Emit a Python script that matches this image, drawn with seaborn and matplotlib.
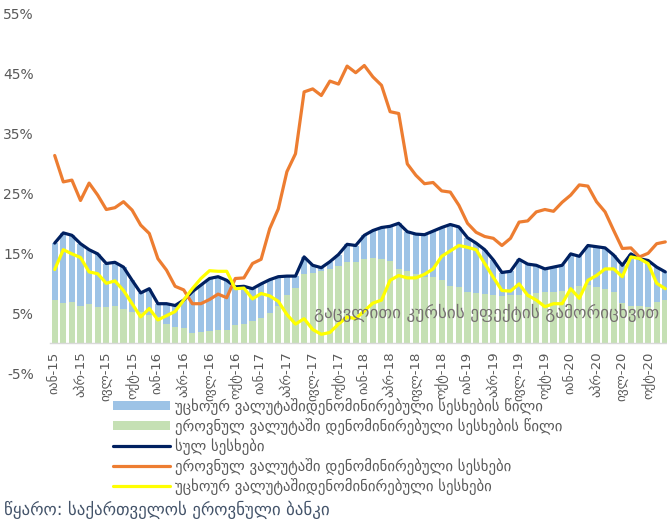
import numpy as np
import pandas as pd
import matplotlib
matplotlib.use("Agg")
import matplotlib.pyplot as plt
from matplotlib.patches import Patch
from matplotlib.lines import Line2D
import seaborn as sns

# ---------------- data (percent, monthly Jan-2015 .. Dec-2020) ----------------
years = ["15", "16", "17", "18", "19", "20"]
quarter_months = ["იან", "აპრ", "ივლ", "ოქტ"]

green_share = [7.2, 6.8, 6.9, 6.2, 6.6, 6.1, 6.1, 6.2, 5.8, 5.2, 5.2, 4.7,
               4.4, 3.3, 2.7, 2.6, 1.8, 1.9, 2.0, 2.2, 2.3, 3.1, 3.3, 3.7,
               4.2, 5.0, 6.2, 8.0, 9.2, 11.5, 11.8, 12.0, 12.4, 12.9, 13.6, 13.5,
               14.0, 14.3, 14.0, 13.8, 12.4, 12.0, 11.5, 11.0, 11.0, 10.6, 9.6, 9.4,
               8.6, 8.4, 8.2, 8.0, 7.9, 8.0, 8.0, 8.3, 8.4, 8.6, 8.5, 8.7,
               9.1, 9.5, 9.8, 9.4, 9.1, 8.5, 6.7, 6.3, 6.2, 6.1, 6.9, 7.2]

blue_share = [9.5, 11.6, 11.1, 10.4, 9.0, 8.8, 7.2, 7.3, 6.9, 5.3, 3.2, 4.4,
              2.2, 3.3, 3.6, 4.6, 6.8, 7.8, 8.8, 8.9, 8.2, 6.3, 6.2, 5.4,
              5.7, 5.6, 4.9, 3.2, 2.0, 2.9, 1.2, 0.6, 1.2, 1.9, 2.9, 2.8,
              4.0, 4.5, 5.3, 5.7, 7.6, 6.6, 6.7, 7.1, 7.7, 8.7, 10.2, 10.0,
              9.0, 8.3, 7.4, 5.9, 3.9, 4.0, 6.0, 4.9, 4.6, 3.8, 4.2, 4.3,
              5.8, 5.0, 6.5, 6.7, 6.8, 6.2, 6.3, 8.6, 7.9, 7.7, 5.8, 4.7]

total_loans = [16.7, 18.4, 18.0, 16.6, 15.6, 14.9, 13.3, 13.5, 12.7, 10.5, 8.4, 9.1,
               6.6, 6.6, 6.3, 7.2, 8.6, 9.7, 10.8, 11.1, 10.5, 9.4, 9.5, 9.1,
               9.9, 10.6, 11.1, 11.2, 11.2, 14.4, 13.0, 12.6, 13.6, 14.8, 16.5, 16.3,
               18.0, 18.8, 19.3, 19.5, 20.0, 18.6, 18.2, 18.1, 18.7, 19.3, 19.8, 19.4,
               17.6, 16.7, 15.6, 13.9, 11.8, 12.0, 14.0, 13.2, 13.0, 12.4, 12.7, 13.0,
               14.9, 14.5, 16.3, 16.1, 15.9, 14.7, 13.0, 14.9, 14.1, 13.8, 12.7, 11.9]

national_loans = [31.3, 26.9, 27.2, 23.8, 26.7, 24.7, 22.3, 22.6, 23.6, 22.2, 19.7, 18.3,
                  14.1, 12.2, 9.5, 8.9, 6.6, 6.6, 7.3, 8.2, 7.6, 10.8, 10.9, 13.3,
                  14.0, 19.1, 22.4, 28.6, 31.6, 41.9, 42.4, 41.3, 43.7, 43.2, 46.2, 45.1,
                  46.3, 44.4, 43.0, 38.6, 38.3, 29.9, 28.0, 26.6, 26.8, 25.4, 25.2, 23.0,
                  20.0, 18.5, 17.8, 17.5, 16.3, 17.5, 20.2, 20.4, 21.9, 22.3, 22.0, 23.5,
                  24.7, 26.4, 26.2, 23.6, 21.9, 18.8, 15.8, 15.9, 14.4, 15.0, 16.6, 16.9]

foreign_loans = [12.3, 15.6, 14.9, 14.3, 11.9, 11.6, 10.0, 10.4, 8.8, 6.6, 4.4, 5.8,
                 3.9, 4.6, 5.3, 7.2, 9.1, 10.8, 12.1, 12.0, 12.0, 9.1, 9.2, 7.4,
                 8.3, 7.9, 7.0, 4.8, 3.2, 4.1, 2.3, 1.5, 1.8, 3.2, 4.4, 4.1,
                 5.4, 6.7, 7.2, 10.5, 11.3, 10.9, 10.9, 11.5, 12.4, 14.5, 15.4, 16.3,
                 16.0, 15.6, 13.3, 11.0, 8.8, 8.7, 9.9, 8.0, 7.2, 6.1, 6.6, 6.6,
                 9.1, 7.5, 10.5, 11.3, 12.4, 12.4, 11.1, 14.4, 14.1, 13.3, 10.0, 9.1]

legend_labels = [
    "უცხოურ ვალუტაშიდენომინირებული სესხების წილი",
    "ეროვნულ ვალუტაში დენომინირებული სესხების წილი",
    "სულ სესხები",
    "ეროვნულ ვალუტაში დენომინირებული სესხები",
    "უცხოურ ვალუტაშიდენომინირებული სესხები",
]
annotation = "გაცვლითი კურსის ეფექტის გამორიცხვით"
source = "წყარო: საქართველოს ეროვნული ბანკი"

tick_labels = [f"{m}-{y}" for y in years for m in quarter_months]
y_ticks = [-5, 5, 15, 25, 35, 45, 55]

# ---------------- styling ----------------
BLUE = "#9DC3E6"
GREEN = "#C5E0B4"
NAVY = "#002060"
ORANGE = "#ED7D31"
YELLOW = "#FFFF00"
GRAY = "#595959"

sns.set_style("white")
plt.rcParams["font.family"] = ["DejaVu Sans"]

W, H = 667, 521
fig = plt.figure(figsize=(W / 100, H / 100), dpi=100)
ax = fig.add_axes([50.4 / W, 147.7 / H, 619.2 / W, 360 / H])

n = len(total_loans)
idx = np.arange(n)
df = pd.DataFrame({
    "i": idx,
    "stack": np.array(green_share) + np.array(blue_share),
    "green": green_share,
    "total": total_loans,
    "national": national_loans,
    "foreign": foreign_loans,
})

sns.barplot(data=df, x="i", y="stack", color=BLUE, width=0.7, saturation=1,
            errorbar=None, linewidth=0, ax=ax, zorder=1)
sns.barplot(data=df, x="i", y="green", color=GREEN, width=0.7, saturation=1,
            errorbar=None, linewidth=0, ax=ax, zorder=2)
sns.lineplot(data=df, x="i", y="total", color=NAVY, linewidth=2.3, ax=ax, zorder=3)
sns.lineplot(data=df, x="i", y="national", color=ORANGE, linewidth=2.3, ax=ax, zorder=4)
sns.lineplot(data=df, x="i", y="foreign", color=YELLOW, linewidth=2.3, ax=ax, zorder=5)

ax.set_xlim(-0.5, n - 0.5)
ax.set_ylim(-5, 55)
ax.set_xlabel("")
ax.set_ylabel("")

for s in ["left", "top", "right"]:
    ax.spines[s].set_visible(False)
ax.spines["bottom"].set_position(("data", 0))
ax.spines["bottom"].set_color("#D9D9D9")
ax.spines["bottom"].set_linewidth(1.0)

ax.set_yticks(y_ticks)
ax.set_yticklabels([f"{v}%" for v in y_ticks], color=GRAY, fontsize=10)
ax.tick_params(axis="y", length=0, pad=12)

ax.set_xticks(np.arange(-0.5, n, 3))
ax.set_xticklabels([])
ax.tick_params(axis="x", which="major", length=5, color="#D9D9D9", width=1)
ax.set_xticks(np.arange(0, n, 3), minor=True)
ax.set_xticklabels(tick_labels, minor=True, rotation=90, color=GRAY, fontsize=9.5,
                   va="top", ha="center")
ax.tick_params(axis="x", which="minor", length=0, pad=6)

ax.text(50.2, 5, annotation, color="#767171", fontsize=12.3, ha="center", va="center",
        zorder=6)

handles = [
    Patch(facecolor=BLUE, edgecolor="none"),
    Patch(facecolor=GREEN, edgecolor="none"),
    Line2D([], [], color=NAVY, linewidth=2.3),
    Line2D([], [], color=ORANGE, linewidth=2.3),
    Line2D([], [], color=YELLOW, linewidth=2.3),
]
fig.legend(handles, legend_labels, loc="upper left",
           bbox_to_anchor=(113 / W, 1 - 398 / H), frameon=False, fontsize=10.6,
           handlelength=3.9, handleheight=0.55, labelspacing=0.2,
           handletextpad=0.3, borderpad=0, borderaxespad=0, labelcolor=GRAY)

fig.text(4 / W, 1 - 510 / H, source, color="#44546A", fontsize=12.2,
         ha="left", va="center")

fig.savefig("out.png", dpi=100)
